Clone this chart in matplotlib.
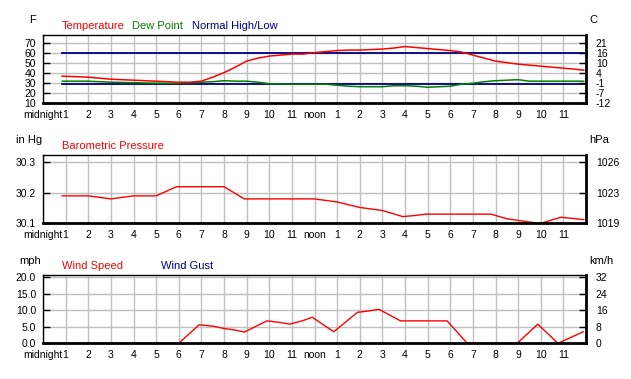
import matplotlib
matplotlib.use("Agg")
import matplotlib.pyplot as plt

plt.rcParams['font.family'] = ['Liberation Sans', 'DejaVu Sans']
plt.rcParams['font.size'] = 7.5

# x axis: hours since midnight
hour_ticks = list(range(0, 24))
hour_labels = ['midnight'] + [str(h) for h in range(1, 12)] + ['noon'] + [str(h) for h in range(1, 12)]

# temperature panel (F)
temp_hours = [0.85, 1.5, 2.0, 2.5, 3.0, 4.0, 5.0, 6.0, 6.5, 7.0, 7.5, 8.0, 8.5, 9.0, 9.5, 10.0,
              10.5, 11.0, 11.5, 12.0, 12.5, 13.0, 13.5, 14.0, 14.5, 15.0, 15.5, 16.0, 16.5, 17.0,
              17.5, 18.0, 18.5, 19.0, 19.5, 20.0, 20.5, 21.0, 21.5, 22.0, 22.5, 23.0, 23.5, 23.9]
temp_f = [37, 36.5, 36, 35, 34, 33, 32, 31, 31, 32, 36, 40.5, 46, 52, 55, 57,
          58, 59, 59, 60.5, 61.5, 62.5, 63, 63, 63.5, 64, 65, 66.5, 65.5, 64.5,
          63.5, 62.5, 61, 58, 55, 52, 50.5, 49, 48, 47, 46, 45, 44, 43]
dew_hours = [0.85, 2.0, 2.5, 3.0, 4.0, 5.0, 6.0, 6.5, 7.0, 7.5, 8.0, 8.5, 9.0, 9.5, 10.0,
             11.0, 12.0, 12.5, 13.0, 13.5, 14.0, 15.0, 15.5, 16.0, 16.5, 17.0, 17.5, 18.0,
             18.5, 19.0, 19.5, 20.0, 20.5, 21.0, 21.5, 22.0, 23.0, 23.9]
dew_f = [32, 32, 31.5, 31, 30.5, 30, 30, 30.5, 31, 31.5, 32.5, 32, 32, 31, 29.5,
         29, 29, 29, 28, 27, 26.5, 26.5, 27.5, 27.5, 27, 26, 26.5, 27,
         29, 30, 31.5, 32.5, 33, 33.5, 32, 32, 32, 32]
normal_hours = [0.85, 23.9]
normal_high = [60, 60]
normal_low = [29, 29]
temp_ticks = [10, 20, 30, 40, 50, 60, 70]
temp_c_labels = ['-12', '-7', '-1', '4', '10', '16', '21']

# pressure panel (in Hg)
pres_hours = [0.85, 2.0, 2.5, 3.0, 3.5, 4.0, 5.0, 5.9, 8.0, 8.9, 12.0, 13.0, 14.0, 15.0,
              15.9, 16.5, 16.9, 19.8, 20.5, 21.5, 22.0, 22.9, 23.4, 23.9]
pres_in = [30.19, 30.19, 30.185, 30.18, 30.185, 30.19, 30.19, 30.22, 30.22, 30.18, 30.18,
           30.17, 30.152, 30.142, 30.122, 30.126, 30.13, 30.13, 30.115, 30.104, 30.1,
           30.12, 30.116, 30.112]
pres_ticks = [30.1, 30.2, 30.3]
pres_hpa_labels = ['1019', '1023', '1026']

# wind panel (mph)
wind_hours = [0.85, 6.0, 6.9, 7.5, 8.0, 8.5, 8.9, 9.9, 10.5, 10.9, 11.5, 11.9, 12.85,
              13.9, 14.4, 14.85, 15.8, 17.86, 18.75, 20.96, 21.87, 22.76, 23.88]
wind_mph = [0, 0, 5.6, 5.2, 4.5, 4.0, 3.4, 6.8, 6.3, 5.8, 6.9, 7.9, 3.5,
            9.4, 9.8, 10.3, 6.8, 6.8, 0, 0, 5.8, 0, 3.5]
wind_ticks = [0, 5, 10, 15, 20]
wind_tick_labels = ['0.0', '5.0', '10.0', '15.0', '20.0']
wind_kmh_labels = ['0', '8', '16', '24', '32']

RED = '#ff0000'
GREEN = '#008000'
NAVY = '#000080'
GRID = '#c0c0c0'

W, H = 631, 379
fig = plt.figure(figsize=(W / 100, H / 100), dpi=100)


def panel(top_px, ylim, yticks, ylabels, rlabels):
    ax = fig.add_axes([43 / W, 1 - (top_px + 68.3) / H, 543 / W, 68.3 / H])
    ax.set_xlim(0, 24)
    ax.set_ylim(*ylim)
    ax.set_xticks(hour_ticks)
    ax.set_xticklabels(hour_labels)
    ax.set_yticks(yticks)
    ax.set_yticklabels(ylabels)
    ax.grid(True, color=GRID, linewidth=1)
    ax.set_axisbelow(True)
    ax.tick_params(axis='x', length=0, pad=5)
    ax.tick_params(axis='y', direction='in', length=5, width=1, pad=5)
    for s in ['left', 'top']:
        ax.spines[s].set_linewidth(1)
    for s in ['right', 'bottom']:
        ax.spines[s].set_linewidth(2)
    twin = ax.twinx()
    twin.set_ylim(*ylim)
    twin.set_yticks(yticks)
    twin.set_yticklabels(rlabels)
    twin.tick_params(axis='y', direction='in', length=5, width=1, pad=7)
    for s in twin.spines.values():
        s.set_visible(False)
    return ax


# temperature
ax1 = panel(35, (10, 78), temp_ticks, [str(t) for t in temp_ticks], temp_c_labels)
ax1.plot(normal_hours, normal_high, color=NAVY, lw=1.3)
ax1.plot(normal_hours, normal_low, color=NAVY, lw=1.3)
ax1.plot(dew_hours, dew_f, color=GREEN, lw=1.1)
ax1.plot(temp_hours, temp_f, color=RED, lw=1.1)
fig.text(33 / W, 1 - 20 / H, 'F', ha='center', va='center', fontsize=8)
fig.text(593 / W, 1 - 20 / H, 'C', ha='center', va='center', fontsize=8)
fig.text(62 / W, 1 - 26 / H, 'Temperature', color=RED, va='center', fontsize=8)
fig.text(132 / W, 1 - 26 / H, 'Dew Point', color=GREEN, va='center', fontsize=8)
fig.text(192 / W, 1 - 26 / H, 'Normal High/Low', color=NAVY, va='center', fontsize=8)

# pressure
ax2 = panel(155, (30.1, 30.324), pres_ticks, [f'{p:.1f}' for p in pres_ticks], pres_hpa_labels)
ax2.plot(pres_hours, pres_in, color=RED, lw=1)
fig.text(16 / W, 1 - 140 / H, 'in Hg', va='center', fontsize=8)
fig.text(589 / W, 1 - 140 / H, 'hPa', va='center', fontsize=8)
fig.text(62 / W, 1 - 146 / H, 'Barometric Pressure', color=RED, va='center', fontsize=8)

# wind
ax3 = panel(275, (0, 20.7), wind_ticks, wind_tick_labels, wind_kmh_labels)
ax3.plot(wind_hours, wind_mph, color=RED, lw=1)
fig.text(19 / W, 1 - 261 / H, 'mph', va='center', fontsize=8)
fig.text(589 / W, 1 - 261 / H, 'km/h', va='center', fontsize=8)
fig.text(62 / W, 1 - 266 / H, 'Wind Speed', color=RED, va='center', fontsize=8)
fig.text(161 / W, 1 - 266 / H, 'Wind Gust', color=NAVY, va='center', fontsize=8)

fig.savefig('out.png', dpi=100, facecolor='white')
